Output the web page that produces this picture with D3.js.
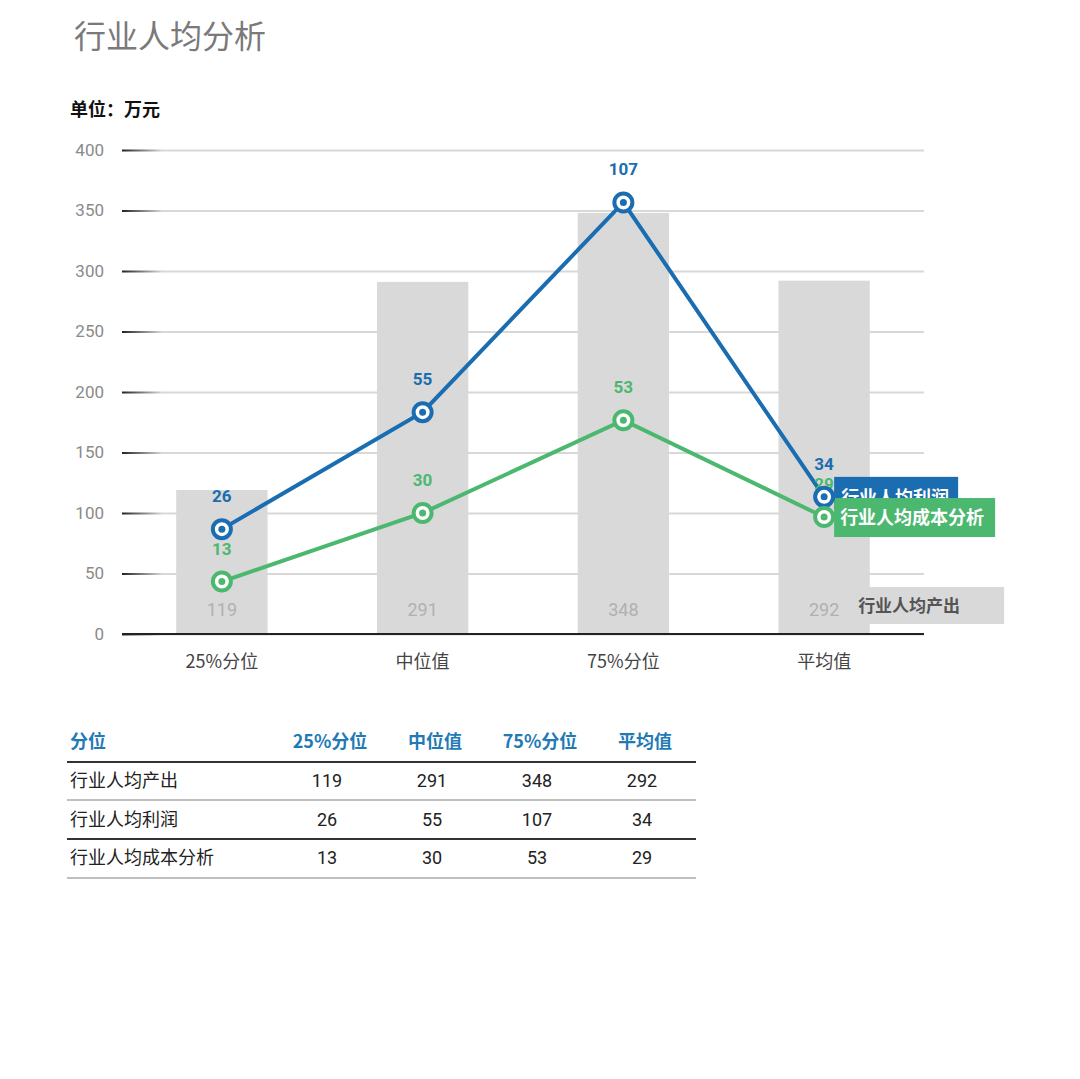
<!DOCTYPE html>
<html>
<head>
<meta charset="utf-8">
<script src="https://cdn.jsdelivr.net/npm/d3@7"></script>
<style>
body { margin:0; background:#fff; font-family:"Noto Sans CJK SC","Noto Sans",sans-serif; }
</style>
</head>
<body>
<div id="chart"></div>
<script>
// data
var categories = ["25%分位", "中位值", "75%分位", "平均值"];
var outputValues = [119, 291, 348, 292];   // 行业人均产出
var profitValues = [26, 55, 107, 34];      // 行业人均利润
var costValues = [13, 30, 53, 29];         // 行业人均成本分析
var yTicks = [0, 50, 100, 150, 200, 250, 300, 350, 400];
var tableHeader = ["分位", "25%分位", "中位值", "75%分位", "平均值"];
var rowNames = ["行业人均产出", "行业人均利润", "行业人均成本分析"];

var blue = "#1a6db0";
var green = "#4cb86f";

var svg = d3.select("#chart").append("svg")
    .attr("width", 1080)
    .attr("height", 1079);

// title
svg.append("text")
    .attr("x", 74).attr("y", 48)
    .attr("font-size", 32)
    .attr("fill", "#7a7a7a")
    .text("行业人均分析");

svg.append("text")
    .attr("x", 70).attr("y", 116)
    .attr("font-size", 18)
    .attr("font-weight", "bold")
    .attr("fill", "#111")
    .text("单位：万元");

// scales
var x = d3.scaleBand()
    .domain(categories)
    .range([122, 924])
    .paddingInner(0.545)
    .paddingOuter(0.27);

var y = d3.scaleLinear().domain([0, 400]).range([634, 150]);
var y2 = d3.scaleLinear().domain([0, 120]).range([634, 150]);

var cx = d => x(d) + x.bandwidth() / 2;

// gridline gradient (tick lines live in a group shifted to x=122)
var defs = svg.append("defs");
var grad = defs.append("linearGradient")
    .attr("id", "gridGrad")
    .attr("gradientUnits", "userSpaceOnUse")
    .attr("x1", 0).attr("x2", 40).attr("y1", 0).attr("y2", 0);
grad.append("stop").attr("offset", "0%").attr("stop-color", "#222");
grad.append("stop").attr("offset", "100%").attr("stop-color", "#d8d8d8");

// y axis
var yAxis = svg.append("g")
    .attr("transform", "translate(122,0)")
    .call(d3.axisLeft(y).tickValues(yTicks).tickSize(-802).tickPadding(18));
yAxis.select(".domain").remove();
yAxis.selectAll(".tick line")
    .attr("stroke", "url(#gridGrad)")
    .attr("stroke-width", 2);
yAxis.selectAll(".tick text")
    .attr("fill", "#8a8a8a")
    .attr("font-size", 17)
    .attr("font-family", "Roboto, sans-serif");

// bars
svg.selectAll("rect.bar")
    .data(outputValues)
    .enter().append("rect")
    .attr("class", "bar")
    .attr("x", (d, i) => x(categories[i]))
    .attr("y", d => y(d))
    .attr("width", x.bandwidth())
    .attr("height", d => y(0) - y(d))
    .attr("fill", "#d9d9d9");

// bar value labels
svg.selectAll("text.barval")
    .data(outputValues)
    .enter().append("text")
    .attr("class", "barval")
    .attr("x", (d, i) => cx(categories[i]))
    .attr("y", 616)
    .attr("text-anchor", "middle")
    .attr("font-size", 18)
    .attr("font-family", "Roboto, sans-serif")
    .attr("fill", "#b0b0b0")
    .text(d => d);

// baseline
svg.append("line")
    .attr("x1", 122).attr("x2", 924)
    .attr("y1", y(0)).attr("y2", y(0))
    .attr("stroke", "#222").attr("stroke-width", 2);

// x axis labels
var xAxis = svg.append("g")
    .attr("transform", "translate(0," + y(0) + ")")
    .call(d3.axisBottom(x).tickSize(0).tickPadding(21));
xAxis.select(".domain").remove();
xAxis.selectAll("text")
    .attr("fill", "#444")
    .attr("font-size", 18)
    .attr("font-family", "Noto Sans CJK SC, sans-serif");

// lines
function drawSeries(values, color) {
    var line = d3.line()
        .x((d, i) => cx(categories[i]))
        .y(d => y2(d));
    svg.append("path")
        .datum(values)
        .attr("d", line)
        .attr("fill", "none")
        .attr("stroke", color)
        .attr("stroke-width", 4);
}
function drawMarkers(values, color) {
    var g = svg.append("g");
    g.selectAll("circle.outer")
        .data(values)
        .enter().append("circle")
        .attr("cx", (d, i) => cx(categories[i]))
        .attr("cy", d => y2(d))
        .attr("r", 9)
        .attr("fill", "#fff")
        .attr("stroke", color)
        .attr("stroke-width", 4);
    g.selectAll("circle.inner")
        .data(values)
        .enter().append("circle")
        .attr("cx", (d, i) => cx(categories[i]))
        .attr("cy", d => y2(d))
        .attr("r", 3.5)
        .attr("fill", color);
}
function drawValueLabels(values, color) {
    svg.append("g").selectAll("text")
        .data(values)
        .enter().append("text")
        .attr("x", (d, i) => cx(categories[i]))
        .attr("y", d => y2(d) - 27)
        .attr("text-anchor", "middle")
        .attr("font-size", 17)
        .attr("font-weight", "bold")
        .attr("font-family", "Roboto, sans-serif")
        .attr("fill", color)
        .text(d => d);
}

drawSeries(costValues, green);
drawSeries(profitValues, blue);
drawValueLabels(costValues, green);
drawValueLabels(profitValues, blue);

// end labels
var last = categories.length - 1;
var lastX = cx(categories[last]);

// output label (gray)
svg.append("rect")
    .attr("x", lastX + 45).attr("y", 587)
    .attr("width", 135).attr("height", 37)
    .attr("fill", "#d9d9d9");
svg.append("text")
    .attr("x", lastX + 34).attr("y", 612)
    .attr("font-size", 17).attr("font-weight", "bold")
    .attr("fill", "#555")
    .text("行业人均产出");

// profit label (blue)
svg.append("rect")
    .attr("x", lastX + 10).attr("y", y2(profitValues[last]) - 20)
    .attr("width", 124).attr("height", 32)
    .attr("fill", blue);
svg.append("text")
    .attr("x", lastX + 17).attr("y", y2(profitValues[last]) + 7)
    .attr("font-size", 18).attr("font-weight", "bold")
    .attr("fill", "#fff")
    .text("行业人均利润");

// cost label (green)
svg.append("rect")
    .attr("x", lastX + 10).attr("y", y2(costValues[last]) - 19)
    .attr("width", 161).attr("height", 39)
    .attr("fill", green);
svg.append("text")
    .attr("x", lastX + 16).attr("y", y2(costValues[last]) + 7)
    .attr("font-size", 18).attr("font-weight", "bold")
    .attr("fill", "#fff")
    .text("行业人均成本分析");

drawMarkers(profitValues, blue);
drawMarkers(costValues, green);

// table
var colX = [70, 330, 435, 540, 645];
var rowY = [742, 781, 820, 858];
var tableRows = [outputValues, profitValues, costValues];

svg.append("g").selectAll("text")
    .data(tableHeader)
    .enter().append("text")
    .attr("x", (d, i) => colX[i])
    .attr("y", rowY[0] + 6)
    .attr("text-anchor", (d, i) => i === 0 ? "start" : "middle")
    .attr("font-size", 18)
    .attr("font-weight", "bold")
    .attr("fill", "#1f7ab5")
    .text(d => d);

tableRows.forEach(function(vals, r) {
    svg.append("text")
        .attr("x", colX[0])
        .attr("y", rowY[r + 1] + 6)
        .attr("font-size", 18)
        .attr("fill", "#222")
        .text(rowNames[r]);
    svg.append("g").selectAll("text")
        .data(vals)
        .enter().append("text")
        .attr("x", (d, i) => colX[i + 1] - 3)
        .attr("y", rowY[r + 1] + 6)
        .attr("text-anchor", "middle")
        .attr("font-size", 18)
        .attr("font-family", "Roboto, sans-serif")
        .attr("fill", "#222")
        .text(d => d);
});

var ruleY = [762, 800, 839, 878];
var ruleColor = ["#333", "#aaa", "#333", "#aaa"];
svg.append("g").selectAll("line")
    .data(ruleY)
    .enter().append("line")
    .attr("x1", 67).attr("x2", 696)
    .attr("y1", d => d).attr("y2", d => d)
    .attr("stroke", (d, i) => ruleColor[i])
    .attr("stroke-width", (d, i) => i % 2 === 0 ? 2 : 1.5);
</script>
</body>
</html>
